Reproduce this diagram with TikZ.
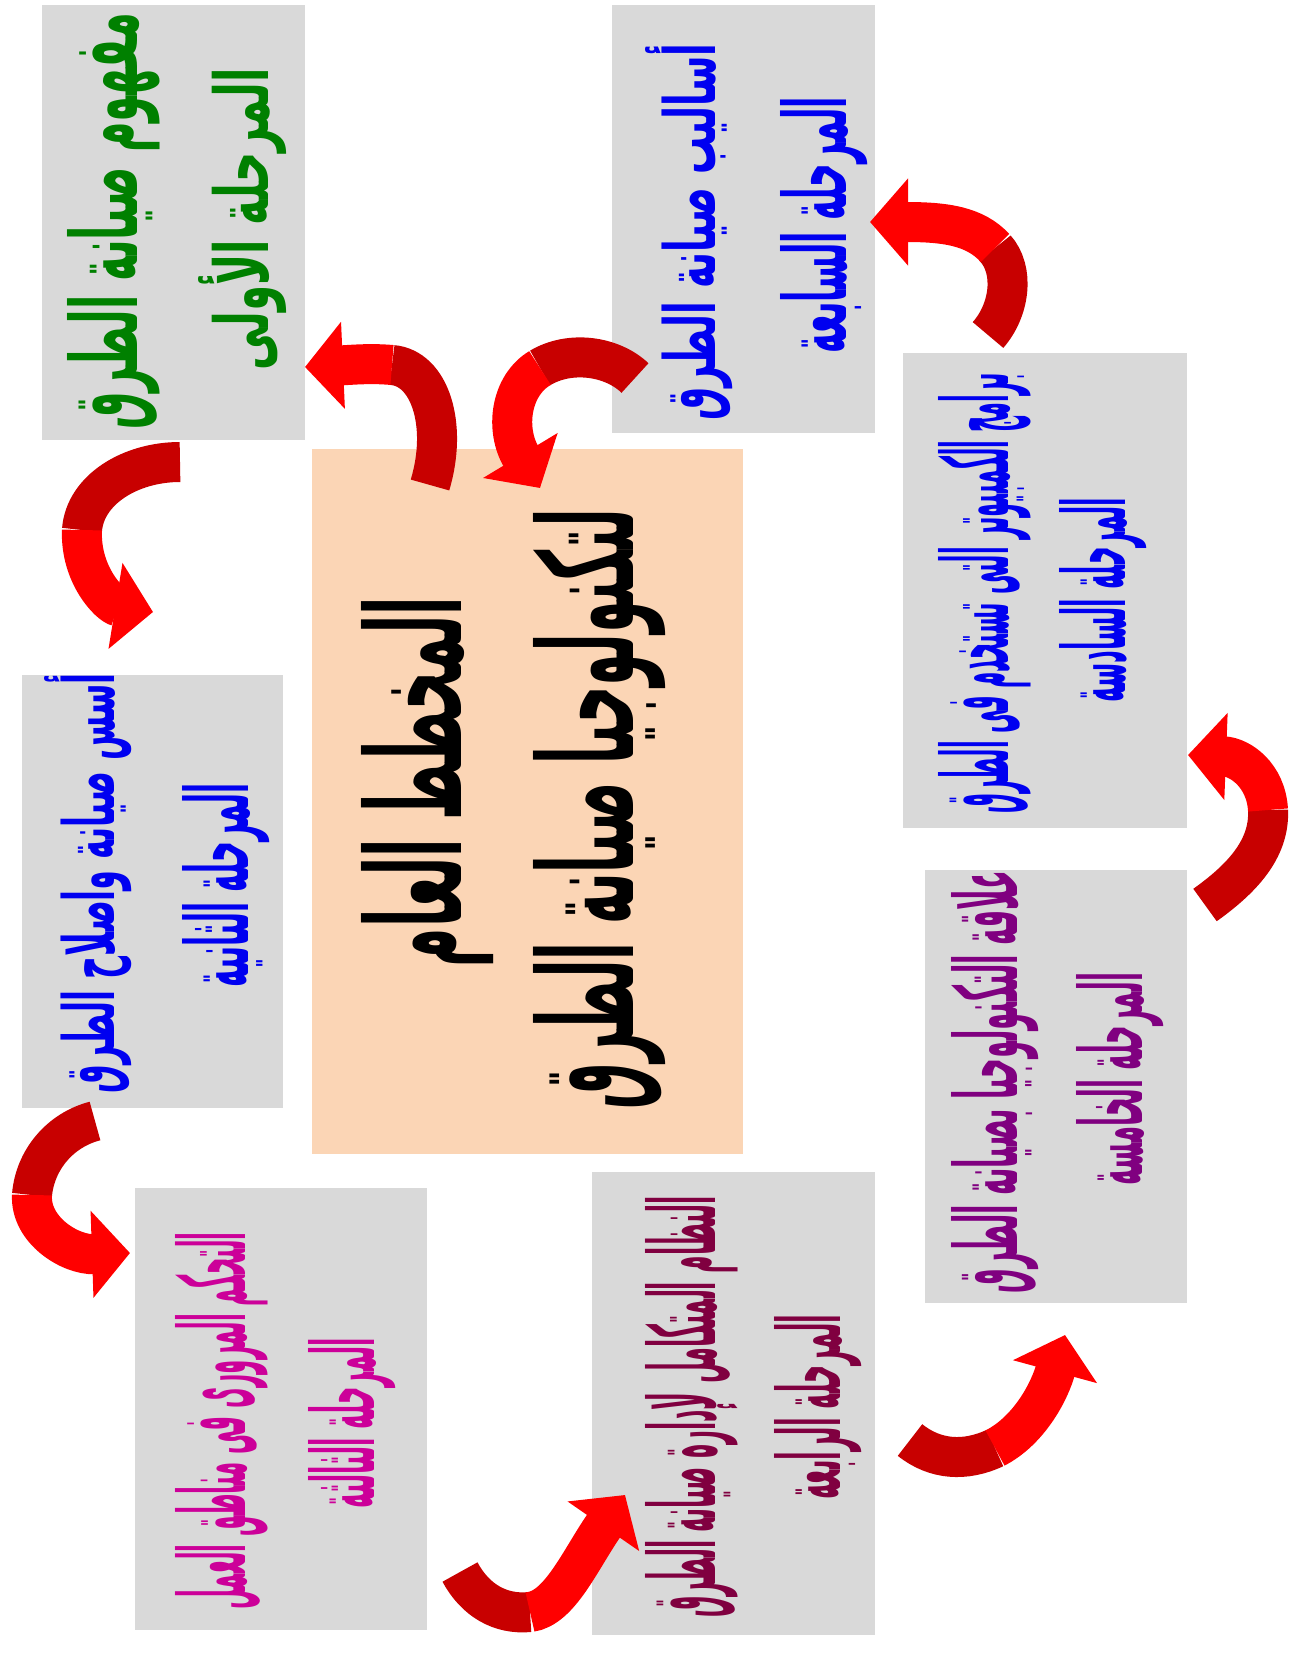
\documentclass[tikz,border=0pt]{standalone}
\usepackage{fontspec}
\usepackage{graphicx}
\usetikzlibrary{arrows.meta}
\newfontfamily\arabicfont[Script=Arabic]{DejaVu Sans}
\TeXXeTstate=1
\definecolor{boxgray}{RGB}{217,217,217}
\definecolor{peach}{RGB}{251,213,181}
\definecolor{tgreen}{RGB}{0,128,0}
\definecolor{tblue}{RGB}{0,0,240}
\definecolor{tmag}{RGB}{204,0,153}
\definecolor{tmaroon}{RGB}{128,0,64}
\definecolor{tpurple}{RGB}{128,0,128}
\definecolor{darkred}{RGB}{200,0,0}
\newcommand\artxt[3]{\resizebox{#1pt}{#2pt}{\arabicfont\bfseries #3}}
\tikzset{
  gbox/.style={fill=boxgray, draw=none, inner sep=0pt},
  cbox/.style={fill=peach, draw=none, inner sep=0pt},
  lbl/.style={rotate=90, inner sep=0pt, anchor=center},
  arrdark/.style={line width=40pt, draw=darkred},
  arrlight/.style={line width=40pt, draw=red, -{Triangle[length=38pt,width=85pt]}},
}
\begin{document}
\begin{tikzpicture}[x=1pt,y=-1pt]
\useasboundingbox (0,0) rectangle (1297,1675);
\fill[white] (0,0) rectangle (1297,1675);
% boxes
\node[gbox, minimum width=263pt, minimum height=435pt] (b1) at (173.5,222.5) {};
\node[gbox, minimum width=261pt, minimum height=433pt] (b2) at (152.5,891.5) {};
\node[gbox, minimum width=292pt, minimum height=442pt] (b3) at (281,1409) {};
\node[gbox, minimum width=283pt, minimum height=463pt] (b4) at (733.5,1403.5) {};
\node[gbox, minimum width=262pt, minimum height=433pt] (b5) at (1056,1086.5) {};
\node[gbox, minimum width=284pt, minimum height=475pt] (b6) at (1045,590.5) {};
\node[gbox, minimum width=263pt, minimum height=428pt] (b7) at (743.5,219) {};
\node[cbox, minimum width=431pt, minimum height=705pt] (c) at (527.5,801.5) {};
% texts
\node[lbl, text=tgreen] (t1a) at (114,221) {\artxt{417}{70}{\beginR مفهوم صيانة الطرق\endR}};
\node[lbl, text=tgreen] (t1b) at (243,219) {\artxt{302}{70}{\beginR المرحلة الأولى\endR}};
\node[lbl, text=tblue] (t2a) at (88,883) {\artxt{420}{70}{\beginR أسس صيانة واصلاح الطرق\endR}};
\node[lbl, text=tblue] (t2b) at (226,885) {\artxt{204}{66}{\beginR المرحلة الثانية\endR}};
\node[lbl, text=tmag] (t3a) at (222,1421) {\artxt{377}{70}{\beginR التحكم المرورى فى مناطق العمل\endR}};
\node[lbl, text=tmag] (t3b) at (352,1423) {\artxt{170}{66}{\beginR المرحلة الثالثة\endR}};
\node[lbl, text=tmaroon] (t4a) at (692,1407) {\artxt{421}{70}{\beginR النظام المتكامل لإدارة صيانة الطرق\endR}};
\node[lbl, text=tmaroon] (t4b) at (818,1407) {\artxt{185}{66}{\beginR المرحلة الرابعة\endR}};
\node[lbl, text=tpurple] (t5a) at (995,1082) {\artxt{423}{66}{\beginR علاقة التكنولوجيا بصيانة الطرق\endR}};
\node[lbl, text=tpurple] (t5b) at (1120,1079) {\artxt{212}{66}{\beginR المرحلة الخامسة\endR}};
\node[lbl, text=tblue] (t6a) at (985,593) {\artxt{440}{70}{\beginR برامج الكمبيوتر التى تستخدم فى الطرق\endR}};
\node[lbl, text=tblue] (t6b) at (1103,600) {\artxt{205}{66}{\beginR المرحلة السادسة\endR}};
\node[lbl, text=tblue] (t7a) at (689,232) {\artxt{377}{70}{\beginR أساليب صيانة الطرق\endR}};
\node[lbl, text=tblue] (t7b) at (824,225) {\artxt{256}{66}{\beginR المرحلة السابعة\endR}};
\node[lbl, text=black] (tca) at (428,782) {\artxt{370}{100}{\beginR المخطط العام\endR}};
\node[lbl, text=black] (tcb) at (600,809) {\artxt{600}{100}{\beginR لتكنولوجيا صيانة الطرق\endR}};
% arrow coordinates
\coordinate (a1s) at (180,462); \coordinate (a1m) at (82,530); \coordinate (a1e) at (153,612);
\coordinate (a2s) at (95,1121); \coordinate (a2m) at (32,1195); \coordinate (a2e) at (130,1253);
\coordinate (a3s) at (460,1572); \coordinate (a3m) at (530,1612); \coordinate (a3e) at (625,1495);
\coordinate (a4s) at (910,1440); \coordinate (a4m) at (995,1448); \coordinate (a4e) at (1065,1335);
\coordinate (a5s) at (1205,905); \coordinate (a5m) at (1268,810); \coordinate (a5e) at (1188,755);
\coordinate (a6s) at (988,335); \coordinate (a6m) at (995,248); \coordinate (a6e) at (870,222);
\coordinate (a7s) at (635,378); \coordinate (a7m) at (540,368); \coordinate (a7e) at (540,488);
\coordinate (a8s) at (430,485); \coordinate (a8m) at (392,365); \coordinate (a8e) at (305,367);
% arrows
\draw[arrdark] (a1s) .. controls (130,462) and (85,490) .. (a1m);
\draw[arrlight] (a1m) .. controls (80,575) and (110,605) .. (a1e);
\draw[arrdark] (a2s) .. controls (60,1130) and (35,1160) .. (a2m);
\draw[arrlight] (a2m) .. controls (30,1230) and (70,1255) .. (a2e);
\draw[arrdark] (a3s) .. controls (475,1600) and (500,1615) .. (a3m);
\draw[arrlight] (a3m) .. controls (560,1608) and (580,1560) .. (a3e);
\draw[arrdark] (a4s) .. controls (935,1460) and (965,1462) .. (a4m);
\draw[arrlight] (a4m) .. controls (1030,1430) and (1050,1390) .. (a4e);
\draw[arrdark] (a5s) .. controls (1240,880) and (1270,850) .. (a5m);
\draw[arrlight] (a5m) .. controls (1266,775) and (1240,757) .. (a5e);
\draw[arrdark] (a6s) .. controls (1010,310) and (1015,270) .. (a6m);
\draw[arrlight] (a6m) .. controls (975,226) and (945,222) .. (a6e);
\draw[arrdark] (a7s) .. controls (612,356) and (570,350) .. (a7m);
\draw[arrlight] (a7m) .. controls (510,386) and (505,430) .. (a7e);
\draw[arrdark] (a8s) .. controls (448,425) and (430,368) .. (a8m);
\draw[arrlight] (a8m) .. controls (370,363) and (350,365) .. (a8e);
\end{tikzpicture}
\end{document}
